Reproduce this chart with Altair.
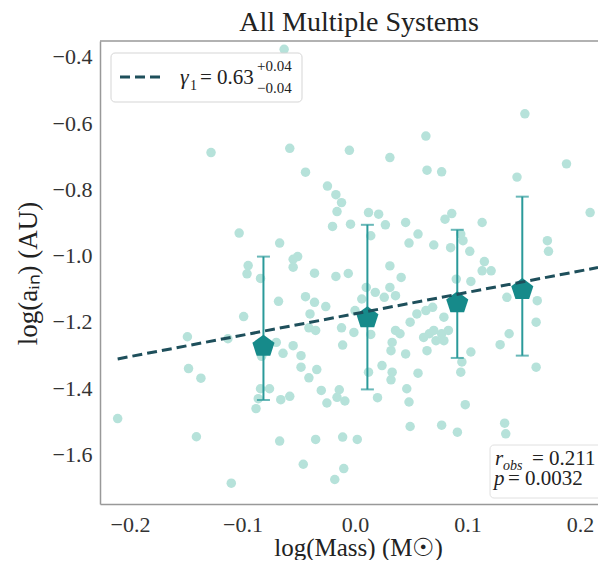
import altair as alt
import pandas as pd

# ---- scatter data (log mass, log a_in) ----
xs = [-0.063, -0.128, -0.058, -0.044, -0.0245, -0.017, -0.012, -0.016, -0.020, -0.103,
      -0.067, -0.051, -0.055, -0.055, -0.095, -0.096, -0.084, -0.036, -0.017, -0.099,
      -0.149, -0.113, -0.083, -0.148, -0.137, -0.084, -0.076, -0.086, -0.088, -0.211,
      -0.141, -0.110,
      -0.005, 0.031, 0.063, 0.064, -0.004, 0.012, 0.021, 0.027, 0.014, 0.045,
      0.056, 0.048, -0.006, 0.031, 0.041, 0.010, 0.031, 0.018, 0.026, 0.036,
      -0.068, -0.044, -0.036, -0.026, -0.040, 0.000, 0.006, -0.041, -0.035, -0.012,
      -0.001, 0.014, 0.036, 0.040, 0.049, 0.055, 0.063, 0.066, 0.061, 0.064,
      0.033, 0.032, 0.045, -0.011, -0.070, -0.055, -0.064, -0.048, -0.048, -0.034,
      -0.041, 0.012, 0.024, 0.033, 0.032, 0.056, 0.046, -0.030, -0.014, -0.016,
      -0.009, -0.025, -0.066, -0.058, 0.020, 0.048, 0.049, -0.067, -0.035, -0.011,
      0.002, -0.046, -0.010, -0.018,
      0.151, 0.188, 0.077, 0.144, 0.209, 0.080, 0.086, 0.113, 0.094, 0.070,
      0.085, 0.096, 0.102, 0.171, 0.172, 0.115, 0.113, 0.121, 0.090, 0.103,
      0.135, 0.162, 0.161, 0.137, 0.129, 0.069, 0.079, 0.070, 0.077, 0.083,
      0.072, 0.079, 0.103, 0.095, 0.094, 0.161, 0.098, 0.077, 0.091, 0.133,
      0.134]
ys = [-0.377, -0.689, -0.676, -0.748, -0.790, -0.816, -0.840, -0.867, -0.912, -0.932,
      -0.962, -1.003, -1.011, -1.035, -1.030, -1.055, -1.069, -1.053, -1.063, -1.184,
      -1.245, -1.251, -1.304, -1.341, -1.370, -1.402, -1.402, -1.432, -1.462, -1.492,
      -1.547, -1.687,
      -0.682, -0.704, -0.639, -0.742, -0.905, -0.870, -0.875, -0.907, -0.940, -0.900,
      -0.935, -0.962, -1.054, -1.031, -1.066, -1.096, -1.096, -1.111, -1.126, -1.121,
      -1.138, -1.124, -1.141, -1.154, -1.176, -1.166, -1.131, -1.218, -1.226, -1.218,
      -1.232, -1.238, -1.226, -1.236, -1.201, -1.176, -1.166, -1.236, -1.247, -1.287,
      -1.262, -1.287, -1.297, -1.270, -1.262, -1.272, -1.295, -1.302, -1.337, -1.344,
      -1.369, -1.352, -1.332, -1.352, -1.375, -1.355, -1.402, -1.407, -1.405, -1.428,
      -1.439, -1.445, -1.435, -1.425, -1.429, -1.442, -1.516, -1.560, -1.555, -1.548,
      -1.555, -1.630, -1.643, -1.676,
      -0.572, -0.723, -0.747, -0.763, -0.870, -0.890, -0.873, -0.900, -0.935, -0.968,
      -0.976, -0.955, -0.987, -0.955, -0.987, -1.018, -1.046, -1.046, -1.071, -1.078,
      -1.126, -1.136, -1.201, -1.236, -1.269, -1.156, -1.186, -1.226, -1.236, -1.226,
      -1.257, -1.257, -1.291, -1.321, -1.352, -1.337, -1.450, -1.512, -1.533, -1.506,
      -1.538]

# ---- binned means with error bars ----
bin_x = [-0.0814, 0.011, 0.0909, 0.1487]
bin_mean = [-1.274, -1.188, -1.143, -1.103]
bin_hi = [-1.003, -0.907, -0.922, -0.822]
bin_lo = [-1.436, -1.404, -1.309, -1.302]

# ---- fitted line (end points) ----
fit_x = [-0.211, 0.216]
fit_y = [-1.312, -1.036]

x_ticks = [-0.2, -0.1, 0.0, 0.1, 0.2]
y_ticks = [-1.6, -1.4, -1.2, -1.0, -0.8, -0.6, -0.4]

X_DOM = [-0.2267, 0.216]
Y_DOM = [-1.75, -0.352]

SERIF = "Liberation Serif"
W, H = 498, 463

pts = pd.DataFrame({"x": xs, "y": ys})
bins = pd.DataFrame({"x": bin_x, "m": bin_mean, "hi": bin_hi, "lo": bin_lo})
fit = pd.DataFrame({"x": fit_x, "y": fit_y})

xscale = alt.Scale(domain=X_DOM, nice=False, zero=False)
yscale = alt.Scale(domain=Y_DOM, nice=False, zero=False)

xaxis = alt.Axis(values=x_ticks, format=".1f", grid=False, ticks=False,
                 labelFont=SERIF, labelFontSize=22, labelColor="#333", labelPadding=10,
                 domainColor="#999", domainWidth=1.5,
                 title="log(Mass) (M☉)", titleFont=SERIF, titleFontSize=25,
                 titleFontWeight="normal", titleColor="#222",
                 titleX=258, titleY=51, titleBaseline="alphabetic")
yaxis = alt.Axis(values=y_ticks, format=".1f", grid=False, ticks=False,
                 labelFont=SERIF, labelFontSize=22, labelColor="#333", labelPadding=8,
                 domainColor="#999", domainWidth=1.5,
                 title="log(aᵢₙ) (AU)", titleFont=SERIF, titleFontSize=27,
                 titleFontWeight="normal", titleColor="#222",
                 titleX=-64, titleY=232, titleBaseline="alphabetic")

scatter = alt.Chart(pts).mark_circle(size=90, color="#b6e2da", opacity=1).encode(
    x=alt.X("x:Q", scale=xscale, axis=xaxis),
    y=alt.Y("y:Q", scale=yscale, axis=yaxis),
)

err = alt.Chart(bins).mark_rule(color="#2a9a9a", strokeWidth=2).encode(
    x="x:Q", y="lo:Q", y2="hi:Q")
caps_hi = alt.Chart(bins).mark_tick(color="#2a9a9a", orient="horizontal", size=13, thickness=2).encode(
    x="x:Q", y="hi:Q")
caps_lo = alt.Chart(bins).mark_tick(color="#2a9a9a", orient="horizontal", size=13, thickness=2).encode(
    x="x:Q", y="lo:Q")

PENT = "M0,-1L0.951,-0.309L0.588,0.809L-0.588,0.809L-0.951,-0.309Z"
pent = alt.Chart(bins).mark_point(shape=PENT, size=540, filled=True, color="#168a8a", opacity=1).encode(
    x="x:Q", y="m:Q")

line = alt.Chart(fit).mark_line(color="#1e4f5b", strokeWidth=3, strokeDash=[10, 5], clip=True).encode(
    x="x:Q", y="y:Q")

top_border = alt.Chart(pd.DataFrame({"a": [0]})).mark_rule(color="#999", strokeWidth=1.5).encode(
    x=alt.value(0), x2=alt.value(W), y=alt.value(0))


def txt(s, x, y, size, italic=False, color="#222"):
    return alt.Chart(pd.DataFrame({"t": [s]})).mark_text(
        font=SERIF, fontSize=size, fontStyle="italic" if italic else "normal",
        align="left", baseline="alphabetic", color=color).encode(
        x=alt.value(x), y=alt.value(y), text="t:N")


# ---- legend box ----
leg_box = alt.Chart(pd.DataFrame({"a": [0]})).mark_rect(
    fill="white", fillOpacity=0.85, stroke="#d5d5d5", strokeWidth=1, cornerRadius=4).encode(
    x=alt.value(11), x2=alt.value(202), y=alt.value(12), y2=alt.value(61))
leg_line = alt.Chart(pd.DataFrame({"a": [0]})).mark_rule(
    color="#1e4f5b", strokeWidth=3, strokeDash=[10, 5]).encode(
    x=alt.value(20), x2=alt.value(60), y=alt.value(36))
leg_texts = [
    txt("γ", 80, 43, 22, italic=True),
    txt("1", 90, 49, 14),
    txt("= 0.63", 100, 43, 21),
    txt("+0.04", 157, 30, 15),
    txt("−0.04", 157, 52, 15),
]

# ---- stats box ----
stat_box = alt.Chart(pd.DataFrame({"a": [0]})).mark_rect(
    fill="white", fillOpacity=0.85, stroke="#e0e0e0", strokeWidth=1, cornerRadius=4).encode(
    x=alt.value(390), x2=alt.value(510), y=alt.value(404), y2=alt.value(457))
stat_texts = [
    txt("r", 395, 424, 21, italic=True),
    txt("obs", 403, 429, 14, italic=True),
    txt("= 0.211", 432, 424, 21),
    txt("p", 394, 444, 21, italic=True),
    txt("= 0.0032", 408, 444, 21),
]

chart = alt.layer(
    scatter, err, caps_hi, caps_lo, pent, line, top_border,
    leg_box, leg_line, *leg_texts, stat_box, *stat_texts
).properties(
    width=W, height=H,
    title=alt.TitleParams("All Multiple Systems", font=SERIF, fontSize=28,
                          fontWeight="normal", color="#222", anchor="middle",
                          dx=10, offset=3),
    autosize=alt.AutoSizeParams(type="none"),
    padding={"left": 92, "top": 33, "right": 0, "bottom": 56},
).configure_view(stroke=None)

chart.save("out.html", embed_options={"renderer": "svg", "actions": False})
